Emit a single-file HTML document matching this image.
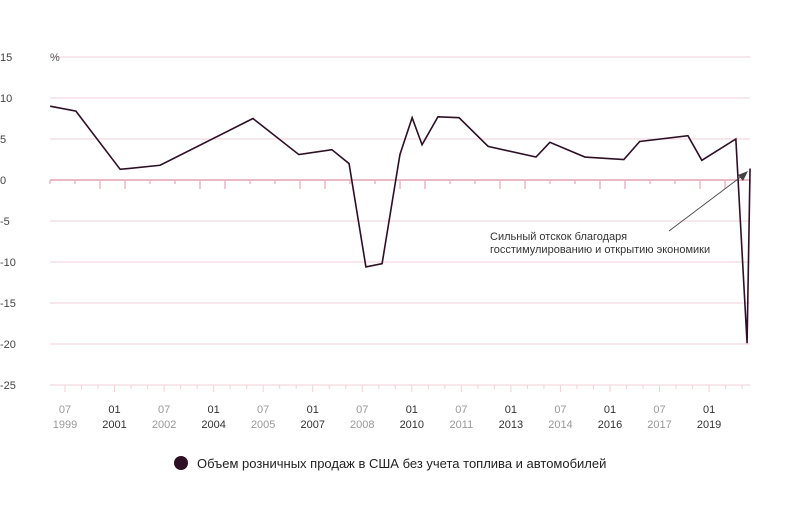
<!DOCTYPE html>
<html><head><meta charset="utf-8"><style>
body{margin:0;background:#fff;}
svg text{font-family:"Liberation Sans",sans-serif;}
</style></head><body>
<svg width="800" height="500" viewBox="0 0 800 500">
<g id="grid"></g><g id="ticks"></g><g id="xlabels"></g><g id="ylabels"></g><g id="series"></g>
<text x="50" y="61" font-size="11" fill="#555">%</text>
<text x="490" y="240" font-size="11" fill="#333">Сильный отскок благодаря</text>
<text x="490" y="253" font-size="11" fill="#333">госстимулированию и открытию экономики</text>
<line x1="669" y1="231" x2="742" y2="176" stroke="#444" stroke-width="0.8"/>
<polygon points="748,171 738,175 743,181" fill="#444"/>
<circle cx="181" cy="463" r="7" fill="#2d0f26"/>
<text x="197" y="468" font-size="13" fill="#222">Объем розничных продаж в США без учета топлива и автомобилей</text>
</svg>
<script>
const yTicks=[15,10,5,0,-5,-10,-15,-20,-25];
const xLabelTimes=[1999.5,2001,2002.5,2004,2005.5,2007,2008.5,2010,2011.5,2013,2014.5,2016,2017.5,2019];
const xLabelTop=["07","01","07","01","07","01","07","01","07","01","07","01","07","01"];
const xLabelBottom=["1999","2001","2002","2004","2005","2007","2008","2010","2011","2013","2014","2016","2017","2019"];
const times=[1999.05,1999.83,2001.17,2002.38,2005.19,2006.58,2007.58,2008.1,2008.61,2009.1,2009.64,2010.01,2010.31,2010.79,2011.43,2012.31,2013.76,2014.18,2015.24,2016.42,2016.9,2018.36,2018.78,2019.81,2020.15,2020.24];
const values=[9.0,8.4,1.3,1.8,7.5,3.1,3.7,2.0,-10.6,-10.2,3.1,7.6,4.3,7.7,7.6,4.1,2.8,4.6,2.8,2.5,4.7,5.4,2.4,5.0,-19.9,1.4];
const NS="http://www.w3.org/2000/svg";
const X=t=>65+(t-1999.5)*33.03;
const Y=v=>180-v*8.2;
const X0=50,X1=750;
function mk(tag,attrs,parent){const e=document.createElementNS(NS,tag);for(const k in attrs)e.setAttribute(k,attrs[k]);document.getElementById(parent).appendChild(e);return e;}
yTicks.forEach(v=>{
  const l=mk('line',{x1:X0,x2:X1,y1:Y(v),y2:Y(v),stroke:v===0?'#e4a4b0':'#f2d2d8','stroke-width':v===0?1.5:1},'grid');
  
  
  const t=mk('text',{x:0,y:Y(v)+4,'font-size':11,fill:'#444'},'ylabels');
  t.textContent=v;
  
  
});
// zero-line ticks
for(let i=0;i<=28;i++){
  const x=X0+i*25; if(x>X1)break;
  const long=[2,3,6,7,10,11,14,15,18,19,22,23,26,27].includes(i);
  const l=mk('line',{x1:x,x2:x,y1:180,y2:long?189:184,stroke:'#eab8c2','stroke-width':1.5},'ticks');
  
  
}
// bottom axis ticks
for(let t=1999.5;t<=2020.3;t+=0.5){
  const l=mk('line',{x1:X(t),x2:X(t),y1:385,y2:(Math.round(t*2)%3===0)?392:389,stroke:'#f2d2d8','stroke-width':1},'ticks');
  
  
}
xLabelTimes.forEach((t,i)=>{
  const dark=i%2===1;
  const a=mk('text',{x:X(t),y:413,'font-size':11,fill:dark?'#333':'#999','text-anchor':'middle'},'xlabels');
  a.textContent=xLabelTop[i];
  
  
  const b=mk('text',{x:X(t),y:428,'font-size':11,fill:dark?'#333':'#999','text-anchor':'middle'},'xlabels');
  b.textContent=xLabelBottom[i];
  
  
});
const p=mk('polyline',{points:times.map((t,i)=>X(t)+','+Y(values[i])).join(' '),fill:'none',stroke:'#2d0f26','stroke-width':1.6,'stroke-linejoin':'miter'},'series');


</script>
</body></html>
